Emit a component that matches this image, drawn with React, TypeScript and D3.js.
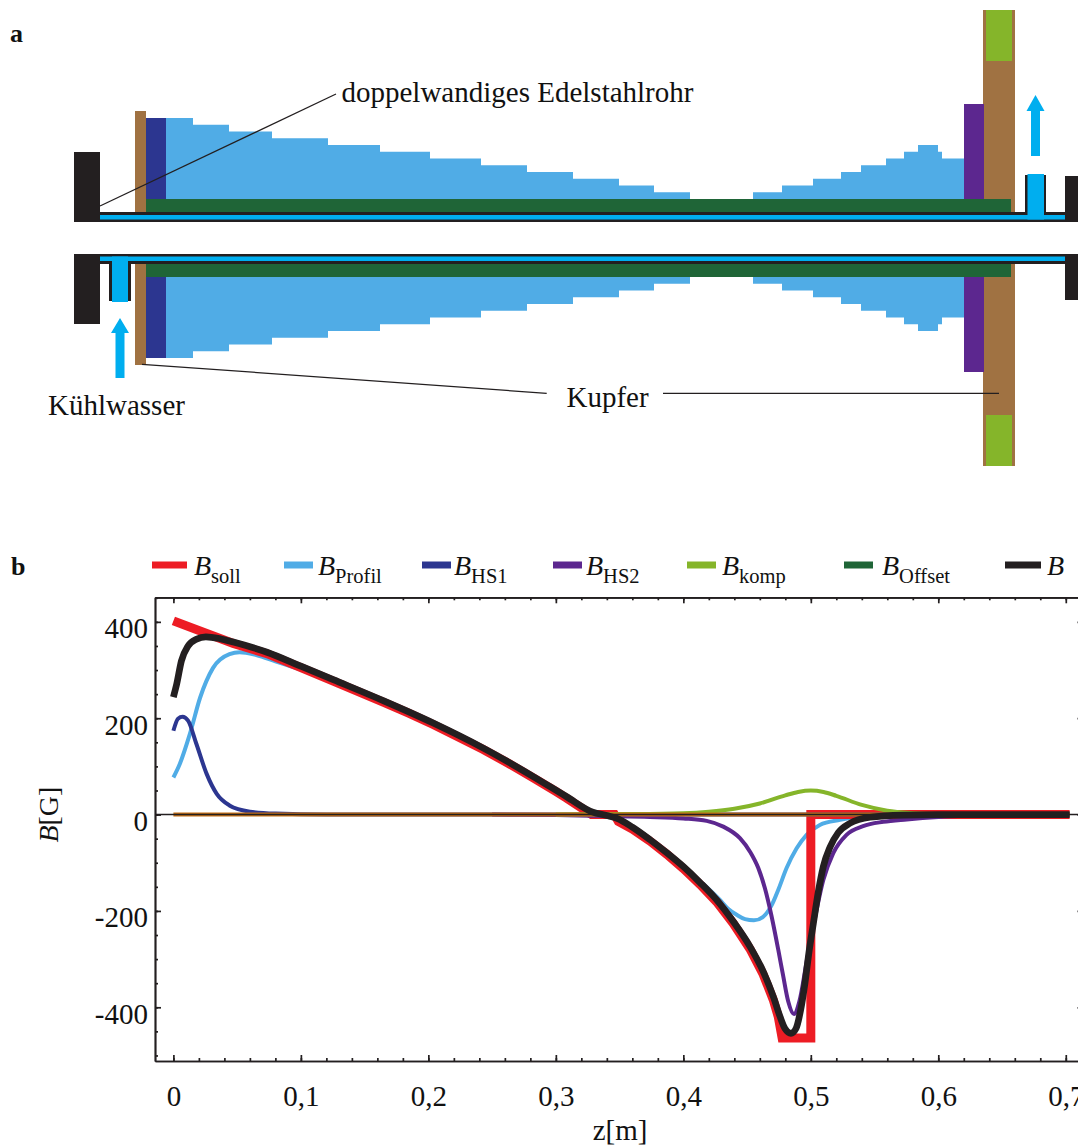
import React, { useRef, useEffect } from 'react';
import * as d3 from 'd3';

type Pt = [number, number];

const BLACK = '#231f20';
const RED = '#ed1c24';
const PROFIL = '#50ace6';
const HS1 = '#2c3690';
const HS2 = '#5c278f';
const KOMP = '#85b52a';
const OFFSET = '#1f6537';
const CYAN = '#00aeef';
const COPPER = '#a07242';
const ORANGE = '#c46f14';
const SERIF = '"Liberation Serif", "Times New Roman", serif';

// panel a: winding layers of the profile coil between the station edges
const profileEdges = [166, 193, 229, 272, 328, 380, 430, 481, 527, 573, 619, 654, 690, 753, 782, 813, 841, 861, 886, 904, 918, 938, 942, 964];
const profileLayers = [12, 11, 10, 9, 8, 7, 6, 5, 4, 3, 2, 1, 0, 1, 2, 3, 4, 5, 6, 7, 8, 7, 6, 6];

// panel b: field curves, [z in m, B in G]
const bSoll: Pt[] = [[0, 402], [0.047, 355], [0.0734, 334], [0.1, 305], [0.1254, 277], [0.145, 255], [0.165, 233], [0.185, 210], [0.2038, 187], [0.2235, 161], [0.2431, 135], [0.263, 106], [0.2823, 76], [0.3, 48], [0.3085, 34], [0.328, 0], [0.346, 0], [0.349, -14], [0.36, -30], [0.3738, -55], [0.3869, -82], [0.4, -112], [0.4131, -145], [0.4261, -181], [0.4392, -226], [0.4523, -279], [0.4627, -332], [0.4706, -385], [0.4745, -420], [0.4775, -464], [0.5, -464], [0.5, 0], [0.703, 0]];
const bProfil: Pt[] = [[0, 77], [0.005, 105], [0.013, 168], [0.021, 243], [0.031, 304], [0.044, 333], [0.052, 337], [0.065, 331], [0.08, 318], [0.1254, 278], [0.2038, 188], [0.2823, 77], [0.329, 4], [0.348, -8], [0.3738, -53], [0.4, -108], [0.4287, -177], [0.4353, -196], [0.4418, -208], [0.4484, -217], [0.4554, -219.5], [0.4627, -212], [0.4693, -188], [0.4745, -156], [0.481, -111], [0.4889, -70], [0.4967, -42], [0.5071, -21.5], [0.5229, -11], [0.5408, -4], [0.6, 0], [0.703, 0]];
const bHs1: Pt[] = [[0, 174], [0.0036, 199], [0.0072, 203], [0.0115, 195], [0.018, 147], [0.026, 85], [0.034, 43], [0.044, 19], [0.06, 6], [0.08, 2], [0.12, 0], [0.703, 0]];
const bHs2: Pt[] = [[0.25, 0], [0.3, -1], [0.34, -3], [0.3738, -5], [0.4, -8], [0.4183, -13], [0.4313, -25], [0.4444, -49], [0.4523, -77], [0.4588, -111], [0.464, -153], [0.4693, -212], [0.4745, -281], [0.4784, -336], [0.4823, -388], [0.4868, -414], [0.491, -388], [0.497, -301], [0.502, -232], [0.5098, -136], [0.5176, -80], [0.528, -42], [0.541, -24], [0.5568, -15], [0.5752, -10], [0.6, -5], [0.65, -1], [0.703, 0]];
const bKomp: Pt[] = [[0.3, 0], [0.35, 1], [0.4, 3], [0.42, 6], [0.44, 12], [0.46, 23], [0.48, 40], [0.49, 47], [0.5, 50], [0.51, 47], [0.52, 39], [0.54, 20], [0.56, 8], [0.58, 3], [0.6, 1], [0.65, 0], [0.703, 0]];
const bOffset: Pt[] = [[0, 0], [0.703, 0]];
const bTotal: Pt[] = [[0, 244], [0.0026, 271], [0.0063, 319], [0.0115, 350], [0.018, 364], [0.0255, 369], [0.0366, 365], [0.047, 358], [0.0734, 337], [0.1, 308], [0.1254, 280], [0.165, 236], [0.2038, 190], [0.2431, 138], [0.2823, 79], [0.3085, 37], [0.329, 5], [0.34, -2], [0.348, -8], [0.36, -26], [0.3738, -52], [0.3869, -79], [0.4, -108], [0.4131, -141], [0.4261, -177], [0.4392, -222], [0.4523, -274], [0.4627, -326], [0.4706, -378], [0.4758, -419], [0.4797, -444], [0.4844, -454], [0.4884, -444], [0.492, -406], [0.4954, -350], [0.4988, -281], [0.502, -226], [0.5059, -160], [0.5098, -108], [0.515, -68], [0.5215, -37.5], [0.5307, -18], [0.5464, -5.5], [0.5725, -1], [0.6, 0], [0.703, 0]];

const xMajorTicks = [0, 0.1, 0.2, 0.3, 0.4, 0.5, 0.6, 0.7];
const xMinorTicks = d3.range(0, 36).map(i => i * 0.02);
const yMajorTicks = [-400, -200, 0, 200, 400];
const yMinorTicks = d3.range(-500, 451, 50);

const legend = [
  { sub: 'soll', color: RED, x0: 152, x1: 187, tx: 194 },
  { sub: 'Profil', color: PROFIL, x0: 284, x1: 313, tx: 318 },
  { sub: 'HS1', color: HS1, x0: 422, x1: 451, tx: 454 },
  { sub: 'HS2', color: HS2, x0: 553, x1: 582, tx: 586 },
  { sub: 'komp', color: KOMP, x0: 687, x1: 716, tx: 722 },
  { sub: 'Offset', color: OFFSET, x0: 844, x1: 873, tx: 882 },
  { sub: '', color: BLACK, x0: 1005, x1: 1041, tx: 1047 },
];

// chart scales
const x = d3.scaleLinear().domain([-0.01443, 0.7139]).range([155, 1083.5]);
const y = d3.scaleLinear().domain([451, -511.5]).range([597.3, 1061]);

// schematic scales, r is the distance from the tube axis
const sx = d3.scaleLinear().domain([0, 1078]).range([0, 1078]);
const rUp = d3.scaleLinear().domain([0, 100]).range([238, 138]);
const rDown = d3.scaleLinear().domain([0, 100]).range([238, 338]);
const LAYER = 6.75;
const COIL_BASE = 39;

const fieldLine = d3.line<Pt>().x(d => x(d[0])).y(d => y(d[1])).curve(d3.curveMonotoneX);
const rawLine = d3.line<Pt>().x(d => x(d[0])).y(d => y(d[1]));

const Block = ({ x0, x1, r0, r1, fill, side = 'both' }: { x0: number; x1: number; r0: number; r1: number; fill: string; side?: string }) => (
  <>
    {side !== 'down' && <rect x={sx(x0)} width={sx(x1) - sx(x0)} y={rUp(r1)} height={rUp(r0) - rUp(r1)} fill={fill} />}
    {side !== 'up' && <rect x={sx(x0)} width={sx(x1) - sx(x0)} y={rDown(r0)} height={rDown(r1) - rDown(r0)} fill={fill} />}
  </>
);

const Arrow = ({ cx, tip, base, end }: { cx: number; tip: number; base: number; end: number }) => (
  <path
    fill={CYAN}
    d={`M${cx},${tip}L${cx + 9},${base}L${cx + 4.5},${base}L${cx + 4.5},${end}L${cx - 4.5},${end}L${cx - 4.5},${base}L${cx - 9},${base}Z`}
  />
);

const Schematic = () => {
  const area = (r: d3.ScaleLinear<number, number>) =>
    d3.area<number>()
      .x(d => sx(d))
      .y0(r(COIL_BASE))
      .y1((_, i) => r(COIL_BASE + profileLayers[i] * LAYER))
      .curve(d3.curveStepAfter)(profileEdges) as string;
  return (
    <g>
      <Block x0={135} x1={146} r0={26} r1={127} fill={COPPER} />
      <Block x0={983} x1={1015} r0={26} r1={228} fill={COPPER} />
      <Block x0={986} x1={1012} r0={177} r1={228} fill={KOMP} />
      <path d={area(rUp)} fill={PROFIL} />
      <path d={area(rDown)} fill={PROFIL} />
      <Block x0={146} x1={166} r0={39} r1={120} fill={HS1} />
      <Block x0={964} x1={984} r0={39} r1={134} fill={HS2} />
      <Block x0={146} x1={1011} r0={26} r1={39} fill={OFFSET} />
      <Block x0={99} x1={1066} r0={16} r1={26} fill={BLACK} />
      <Block x0={99} x1={1065} r0={18.5} r1={23} fill={CYAN} />
      <Block x0={74} x1={100} r0={16} r1={86} fill={BLACK} />
      <Block x0={1065} x1={1078} r0={16} r1={62} fill={BLACK} />
      <Block x0={109} x1={131} r0={26} r1={63} fill={BLACK} side="down" />
      <Block x0={112} x1={128} r0={18.5} r1={64} fill={CYAN} side="down" />
      <Block x0={1025} x1={1046} r0={26} r1={63} fill={BLACK} side="up" />
      <Block x0={1027.5} x1={1044} r0={18.5} r1={64} fill={CYAN} side="up" />
      <Arrow cx={120} tip={318} base={333} end={378} />
      <Arrow cx={1035.5} tip={95} base={111} end={156} />
      <g stroke={BLACK} strokeWidth={1.3}>
        <line x1={100} y1={206} x2={336} y2={94} />
        <line x1={142} y1={364.3} x2={546.7} y2={393.3} />
        <line x1={663} y1={393.4} x2={999} y2={393.4} />
      </g>
      <g fontFamily={SERIF} fontSize={29} fill="#111">
        <text x={341.5} y={101.5}>doppelwandiges Edelstahlrohr</text>
        <text x={566.5} y={406.7}>Kupfer</text>
        <text x={48} y={415}>Kühlwasser</text>
      </g>
      <text x={10} y={42} fontFamily={SERIF} fontSize={26} fontWeight="bold" fill="#111">a</text>
    </g>
  );
};

const FieldPlot = () => {
  const axesRef = useRef<SVGGElement>(null);

  useEffect(() => {
    const g = d3.select(axesRef.current);
    g.selectAll('*').remove();
    const none = () => '';
    const draw = (axis: any, tx: number, ty: number) =>
      g.append('g').attr('transform', `translate(${tx},${ty})`).call(axis);

    const [left, right] = x.range();
    const [top, bottom] = y.range();

    // minor ticks on all four sides
    draw(d3.axisBottom(x).tickValues(xMinorTicks).tickSizeInner(-3).tickSizeOuter(0).tickFormat(none), 0, bottom);
    draw(d3.axisTop(x).tickValues(xMinorTicks).tickSizeInner(-3).tickSizeOuter(0).tickFormat(none), 0, top);
    draw(d3.axisLeft(y).tickValues(yMinorTicks).tickSizeInner(-3).tickSizeOuter(0).tickFormat(none), left, 0);
    draw(d3.axisRight(y).tickValues(yMinorTicks).tickSizeInner(-3).tickSizeOuter(0).tickFormat(none), right, 0);

    // major ticks, labels on the bottom and left only
    draw(
      d3.axisBottom(x).tickValues(xMajorTicks).tickSizeInner(-6).tickSizeOuter(0).tickPadding(26)
        .tickFormat((d: any) => (d === 0 ? '0' : d3.format('.1f')(d).replace('.', ','))),
      0, bottom,
    ).selectAll('text').attr('dy', 19);
    draw(d3.axisTop(x).tickValues(xMajorTicks).tickSizeInner(-6).tickSizeOuter(0).tickFormat(none), 0, top);
    draw(
      d3.axisLeft(y).tickValues(yMajorTicks).tickSizeInner(-6).tickSizeOuter(0).tickPadding(7)
        .tickFormat((d: any) => String(d)),
      left, 0,
    ).selectAll('text').attr('dy', 16);
    draw(d3.axisRight(y).tickValues(yMajorTicks).tickSizeInner(-6).tickSizeOuter(0).tickFormat(none), right, 0);

    g.selectAll('.domain, .tick line').attr('stroke', BLACK).attr('stroke-width', 1.7);
    g.selectAll('text').attr('font-family', SERIF).attr('font-size', 29).attr('fill', '#111');
  }, []);

  return (
    <g>
      <g fill="none">
        <path d={fieldLine(bProfil) as string} stroke={PROFIL} strokeWidth={4} />
        <path d={rawLine(bSoll) as string} stroke={RED} strokeWidth={9} strokeLinejoin="miter" />
        <path d={fieldLine(bHs1) as string} stroke={HS1} strokeWidth={4} />
        <path d={fieldLine(bHs2) as string} stroke={HS2} strokeWidth={4} />
        <path d={fieldLine(bKomp) as string} stroke={KOMP} strokeWidth={4} />
        <line x1={x(bOffset[0][0])} x2={x(bOffset[1][0])} y1={y(bOffset[0][1])} y2={y(bOffset[1][1])} stroke={ORANGE} strokeWidth={4} />
        <line x1={x.range()[0]} x2={x.range()[1]} y1={y(0)} y2={y(0)} stroke={BLACK} strokeWidth={1.5} />
        <path d={fieldLine(bTotal) as string} stroke={BLACK} strokeWidth={6.7} />
      </g>
      <g ref={axesRef} />
      {legend.map(d => (
        <g key={d.sub || 'total'}>
          <line x1={d.x0} x2={d.x1} y1={565} y2={565} stroke={d.color} strokeWidth={7} />
          <text x={d.tx} y={575} fontFamily={SERIF} fontSize={28} fill="#111">
            <tspan fontStyle="italic">B</tspan>
            {d.sub && <tspan fontSize={20.5} dy={8}>{d.sub}</tspan>}
          </text>
        </g>
      ))}
      <text x={11} y={575} fontFamily={SERIF} fontSize={26} fontWeight="bold" fill="#111">b</text>
      <text x={620} y={1140} textAnchor="middle" fontFamily={SERIF} fontSize={29} fill="#111">z[m]</text>
      <text transform={`translate(58,${y(0)}) rotate(-90)`} textAnchor="middle" fontFamily={SERIF} fontSize={28} fill="#111">
        <tspan fontStyle="italic">B</tspan>[G]
      </text>
    </g>
  );
};

export default function App() {
  return (
    <svg width={1078} height={1147} style={{ position: 'absolute', left: 0, top: 0, display: 'block', background: '#fff' }}>
      <Schematic />
      <FieldPlot />
    </svg>
  );
}
